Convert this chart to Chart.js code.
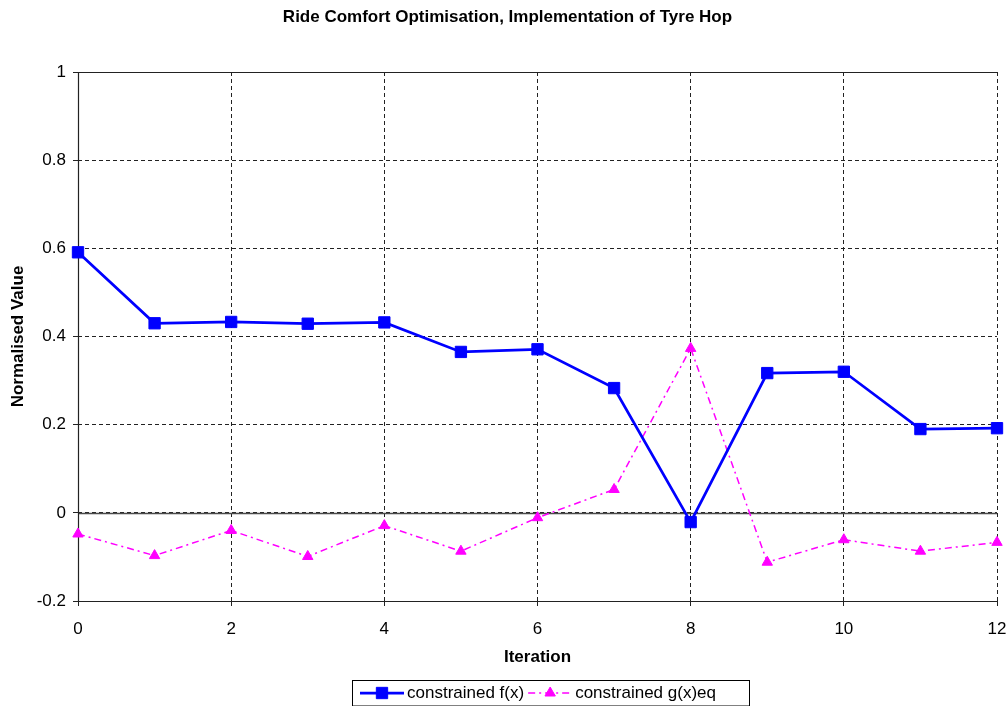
<!DOCTYPE html>
<html>
<head>
<meta charset="utf-8">
<title>Ride Comfort Optimisation, Implementation of Tyre Hop</title>
<script src="https://cdn.jsdelivr.net/npm/chart.js@4.4.1/dist/chart.umd.min.js"></script>
<style>
  html, body { margin: 0; padding: 0; background: #ffffff; }
  #wrap { width: 1007px; height: 706px; }
</style>
</head>
<body>
<div id="wrap"><canvas id="chart" width="1007" height="706"></canvas></div>
<script>
// Optimiser iteration history (normalised)
const iterations = [0, 1, 2, 3, 4, 5, 6, 7, 8, 9, 10, 11, 12];
const constrainedF = [0.591, 0.430, 0.433, 0.429, 0.432, 0.365, 0.371, 0.283, -0.021, 0.317, 0.320, 0.190, 0.192];
const constrainedG = [-0.048, -0.097, -0.040, -0.099, -0.029, -0.087, -0.011, 0.053, 0.373, -0.112, -0.061, -0.087, -0.067];
const seriesNames = ['constrained f(x)', 'constrained g(x)eq'];
const chartTitle = 'Ride Comfort Optimisation, Implementation of Tyre Hop';
const xAxisTitle = 'Iteration';
const yAxisTitle = 'Normalised Value';

const FONT = "'Liberation Sans', Arial, Helvetica, sans-serif";
const BLUE = '#0000ff';
const MAGENTA = '#ff00ff';

const toPoints = (xs, ys) => xs.map((x, i) => ({ x: x, y: ys[i] }));

// Chart heading, centred over the whole canvas
const headingPlugin = {
  id: 'heading',
  afterDraw(chart) {
    const { ctx } = chart;
    ctx.save();
    ctx.font = 'bold 17px ' + FONT;
    ctx.fillStyle = '#000';
    ctx.textAlign = 'center';
    ctx.textBaseline = 'middle';
    ctx.fillText(chartTitle, chart.width / 2 + 4, 17);
    ctx.restore();
  }
};

// Solid frame (left, top, bottom) and the solid zero line under the series
const framePlugin = {
  id: 'frame',
  beforeDatasetsDraw(chart) {
    const { ctx, chartArea: a, scales } = chart;
    ctx.save();
    ctx.setLineDash([]);
    ctx.strokeStyle = '#4a4a4a';
    ctx.lineWidth = 1.3;
    const y0 = Math.round(scales.y.getPixelForValue(0)) + 0.5;
    ctx.beginPath();
    ctx.moveTo(a.left, y0); ctx.lineTo(a.right, y0);
    ctx.stroke();
    ctx.strokeStyle = '#222';
    ctx.lineWidth = 1.2;
    ctx.beginPath();
    ctx.moveTo(a.right, a.top + 0.5);
    ctx.lineTo(a.left + 0.5, a.top + 0.5);
    ctx.lineTo(a.left + 0.5, a.bottom + 0.5);
    ctx.lineTo(a.right, a.bottom + 0.5);
    ctx.stroke();
    ctx.restore();
  }
};

// Boxed legend below the axis showing line style and marker for each series
const boxLegendPlugin = {
  id: 'boxLegend',
  afterDraw(chart) {
    const { ctx } = chart;
    const box = { left: 352.5, top: 680.5, right: 749.5, bottom: 706 };
    const cy = 693;
    ctx.save();
    ctx.strokeStyle = '#000';
    ctx.lineWidth = 1;
    ctx.setLineDash([]);
    ctx.strokeRect(box.left, box.top, box.right - box.left, box.bottom - box.top);
    ctx.font = '17px ' + FONT;
    ctx.textBaseline = 'middle';
    ctx.fillStyle = '#000';
    let x = box.left + 7.5;
    const sampleW = 44;
    chart.data.datasets.forEach((ds) => {
      ctx.save();
      ctx.strokeStyle = ds.borderColor;
      ctx.lineWidth = ds.borderWidth;
      ctx.setLineDash(ds.borderDash || []);
      ctx.beginPath();
      ctx.moveTo(x, cy); ctx.lineTo(x + sampleW, cy);
      ctx.stroke();
      ctx.setLineDash([]);
      ctx.fillStyle = ds.pointBackgroundColor;
      ctx.strokeStyle = ds.pointBorderColor;
      ctx.lineWidth = ds.pointBorderWidth;
      Chart.helpers.drawPoint(ctx, {
        pointStyle: ds.pointStyle,
        radius: ds.pointRadius,
        borderWidth: ds.pointBorderWidth,
        rotation: 0
      }, x + sampleW / 2, cy);
      ctx.restore();
      x += sampleW + 3;
      ctx.fillText(ds.label, x, cy);
      x += ctx.measureText(ds.label).width + 4;
    });
    ctx.restore();
  }
};

const gridDash = { dash: [4, 3], display: false };

new Chart(document.getElementById('chart'), {
  type: 'line',
  data: {
    datasets: [
      {
        label: seriesNames[0],
        data: toPoints(iterations, constrainedF),
        borderColor: BLUE,
        backgroundColor: BLUE,
        borderWidth: 2.75,
        pointStyle: 'rect',
        pointRadius: 8,
        pointBorderWidth: 1,
        pointBackgroundColor: BLUE,
        pointBorderColor: BLUE,
        tension: 0,
        fill: false,
        clip: false
      },
      {
        label: seriesNames[1],
        data: toPoints(iterations, constrainedG),
        borderColor: MAGENTA,
        backgroundColor: MAGENTA,
        borderWidth: 1.5,
        borderDash: [7, 4, 2, 4],
        pointStyle: 'triangle',
        pointRadius: 6,
        pointBorderWidth: 1,
        pointBackgroundColor: MAGENTA,
        pointBorderColor: MAGENTA,
        tension: 0,
        fill: false,
        clip: false
      }
    ]
  },
  options: {
    responsive: false,
    animation: false,
    events: [],
    layout: { padding: { left: 0, right: 10, top: 72, bottom: 30 } },
    plugins: {
      legend: { display: false },
      tooltip: { enabled: false },
      title: { display: false }
    },
    scales: {
      x: {
        type: 'linear',
        min: 0,
        max: 12,
        offset: false,
        afterFit(scale) {
          scale.height = 75;
          scale.paddingLeft = 0;
          scale.paddingRight = 0;
        },
        ticks: {
          stepSize: 2,
          color: '#000',
          padding: 13,
          maxRotation: 0,
          font: { family: FONT, size: 17 },
          callback: v => String(v)
        },
        grid: {
          color: '#222',
          lineWidth: 1,
          drawTicks: true,
          tickLength: 5,
          tickColor: '#222'
        },
        border: gridDash,
        title: {
          display: true,
          text: xAxisTitle,
          color: '#000',
          font: { family: FONT, size: 17, weight: 'bold', lineHeight: 1.2 },
          padding: { top: 0, bottom: 8 }
        }
      },
      y: {
        type: 'linear',
        min: -0.2,
        max: 1,
        afterFit(scale) {
          scale.width = 78;
          scale.paddingTop = 0;
          scale.paddingBottom = 0;
        },
        ticks: {
          stepSize: 0.2,
          color: '#000',
          padding: 7,
          font: { family: FONT, size: 17 },
          callback: v => String(Math.round(v * 10) / 10)
        },
        grid: {
          color: '#222',
          lineWidth: 1,
          drawTicks: true,
          tickLength: 5,
          tickColor: '#222'
        },
        border: gridDash,
        title: {
          display: true,
          text: yAxisTitle,
          color: '#000',
          font: { family: FONT, size: 17, weight: 'bold', lineHeight: 1.2 },
          padding: { top: 8, bottom: 0 }
        }
      }
    }
  },
  plugins: [framePlugin, boxLegendPlugin, headingPlugin]
});
</script>
</body>
</html>
